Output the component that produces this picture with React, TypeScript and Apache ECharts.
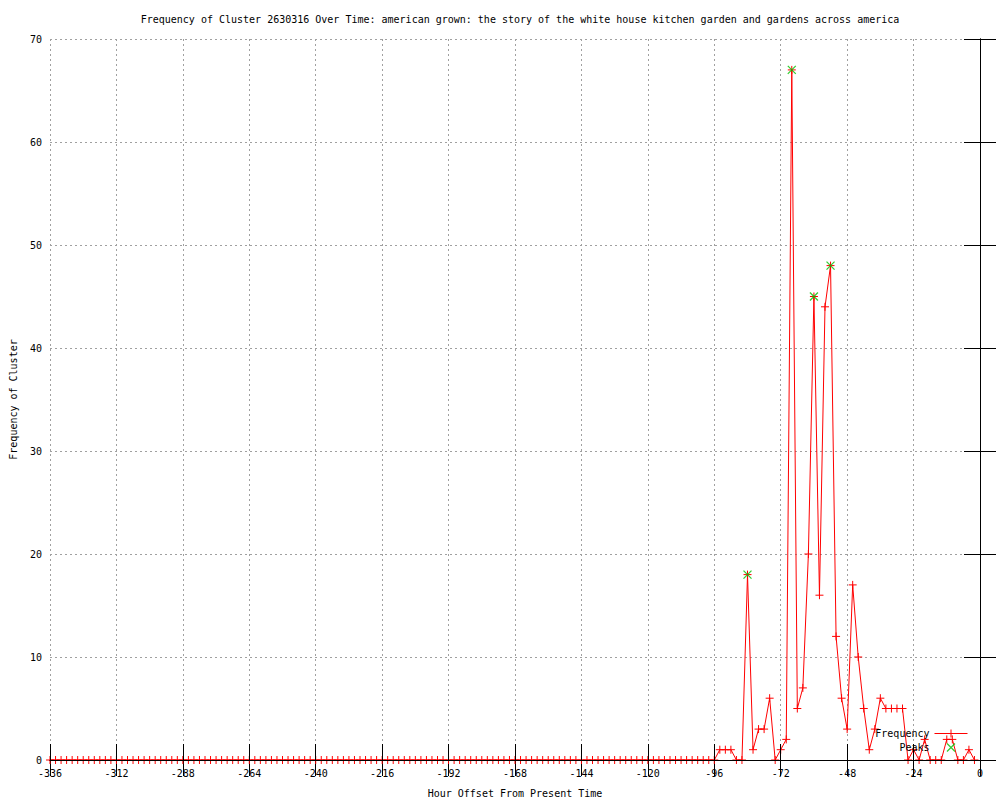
import React, { useEffect, useRef } from "react";
import * as echarts from "echarts";

const titleText =
  "Frequency of Cluster 2630316 Over Time: american grown: the story of the white house kitchen garden and gardens across america";
const xAxisName = "Hour Offset From Present Time";
const yAxisName = "Frequency of Cluster";

// Frequency every 2 hours, from -336 to -2
const freqValues = [
  0,0,0,0,0,0,0,0,0,0,0,0,0,0,0,0,0,0,0,0,
  0,0,0,0,0,0,0,0,0,0,0,0,0,0,0,0,0,0,0,0,
  0,0,0,0,0,0,0,0,0,0,0,0,0,0,0,0,0,0,0,0,
  0,0,0,0,0,0,0,0,0,0,0,0,0,0,0,0,0,0,0,0,
  0,0,0,0,0,0,0,0,0,0,0,0,0,0,0,0,0,0,0,0,
  0,0,0,0,0,0,0,0,0,0,0,0,0,0,0,0,0,0,
  // -100 .. -2
  0,0,0,1,1,1,0,0,18,1,3,3,6,0,1,2,
  67,5,7,20,45,16,44,48,12,6,3,17,10,5,1,
  3,6,5,5,5,5,0,1,0,2,0,0,0,2,2,0,0,1,0,
];
const startHour = -336;
const stepHours = 2;
const freqHours = freqValues.map((_, i) => startHour + stepHours * i);

const peakHours = [-84, -68, -60, -54];
const peakValues = [18, 67, 45, 48];

const xMin = -336;
const xMax = 0;
const xInterval = 24;
const yMin = 0;
const yMax = 70;
const yInterval = 10;

const FONT = "DejaVu Sans Mono";
const RED = "#ff0000";
const GREEN = "#00c000";
const GRID = "#a0a0a0";

const plusSymbol = "path://M0,4L8,4M4,0L4,8";
const crossSymbol = "path://M0,0L8,8M8,0L0,8";
const freqLegendIcon = "path://M0,4L33,4M16.5,0L16.5,8";
const peakLegendIcon = "path://M0,0M33,8M12.5,0L20.5,8M20.5,0L12.5,8";

export default function App() {
  const ref = useRef<HTMLDivElement>(null);
  useEffect(() => {
    if (!ref.current) return;
    const chart = echarts.init(ref.current, undefined, { renderer: "svg" });
    const textBase = { fontFamily: FONT, fontSize: 10, color: "#000" };
    const option: any = {
      animation: false,
      backgroundColor: "#fff",
      title: {
        text: titleText,
        left: 515,
        top: 9,
        textAlign: "center",
        textStyle: { ...textBase, fontWeight: "normal" },
      },
      legend: {
        orient: "vertical",
        align: "right",
        right: 30,
        top: 727,
        padding: 0,
        itemGap: 1,
        itemWidth: 33,
        itemHeight: 8,
        textStyle: { ...textBase, lineHeight: 12 },
        data: [
          {
            name: "Frequency",
            icon: freqLegendIcon,
            itemStyle: { color: "none", borderColor: RED, borderWidth: 1 },
          },
          {
            name: "Peaks",
            icon: peakLegendIcon,
            itemStyle: { color: "none", borderColor: GREEN, borderWidth: 1.3 },
          },
        ],
      },
      grid: { left: 50, right: 20, top: 39, bottom: 40, outerBoundsMode: "none", containLabel: false },
      xAxis: [
        {
          type: "value",
          min: xMin,
          max: xMax,
          interval: xInterval,
          position: "bottom",
          z: 5,
          name: xAxisName,
          nameLocation: "middle",
          nameGap: 28,
          nameTextStyle: { ...textBase },
          axisLine: { show: true, lineStyle: { color: "#000", width: 1 } },
          axisTick: { show: true, inside: true, length: 16, lineStyle: { color: "#000" } },
          axisLabel: { ...textBase, margin: 8 },
          splitLine: { show: false },
        },
        {
          type: "value",
          min: xMin,
          max: xMax,
          interval: xInterval,
          position: "top",
          axisLine: { show: true, lineStyle: { color: "#000", width: 1 } },
          axisTick: { show: true, inside: true, length: 16, lineStyle: { color: "#000" } },
          axisLabel: { show: false },
          splitLine: { show: true, lineStyle: { color: GRID, type: [2, 3], width: 1 } },
        },
      ],
      yAxis: [
        {
          type: "value",
          min: yMin,
          max: yMax,
          interval: yInterval,
          position: "left",
          z: 5,
          name: yAxisName,
          nameLocation: "middle",
          nameRotate: 90,
          nameGap: 32,
          nameTextStyle: { ...textBase },
          axisLine: { show: true, lineStyle: { color: "#000", width: 1 } },
          axisTick: { show: true, inside: true, length: 16, lineStyle: { color: "#000" } },
          axisLabel: { ...textBase, margin: 8 },
          splitLine: { show: false },
        },
        {
          type: "value",
          min: yMin,
          max: yMax,
          interval: yInterval,
          position: "right",
          axisLine: { show: true, lineStyle: { color: "#000", width: 1 } },
          axisTick: { show: true, inside: true, length: 16, lineStyle: { color: "#000" } },
          axisLabel: { show: false },
          splitLine: { show: true, lineStyle: { color: GRID, type: [2, 3], width: 1 } },
        },
      ],
      series: [
        {
          name: "Frequency",
          type: "line",
          xAxisIndex: 0,
          yAxisIndex: 0,
          data: freqHours.map((h, i) => [h, freqValues[i]]),
          symbol: plusSymbol,
          symbolSize: 8,
          showAllSymbol: true,
          lineStyle: { color: RED, width: 1 },
          itemStyle: { color: RED, borderColor: RED, borderWidth: 1 },
          z: 2,
        },
        {
          name: "Peaks",
          type: "scatter",
          xAxisIndex: 0,
          yAxisIndex: 0,
          data: peakHours.map((h, i) => [h, peakValues[i]]),
          symbol: crossSymbol,
          symbolSize: 8,
          itemStyle: { color: "none", borderColor: GREEN, borderWidth: 1.3 },
          z: 4,
        },
      ],
    };
    chart.setOption(option);
    return () => chart.dispose();
  }, []);
  return (
    <div
      ref={ref}
      style={{ position: "fixed", left: 0, top: 0, width: 1000, height: 800 }}
    />
  );
}
